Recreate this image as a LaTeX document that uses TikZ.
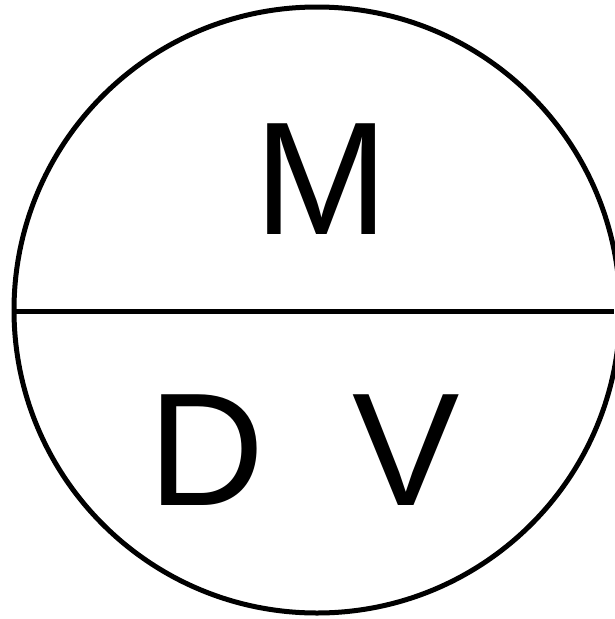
\documentclass[tikz,border=0pt]{standalone}
\usepackage{fontspec}
\setmainfont{Liberation Sans}
\usetikzlibrary{positioning}

\begin{document}
\begin{tikzpicture}[x=1pt, y=-1pt,
  stroke/.style={draw, line width=5pt},
  letter/.style={inner sep=0pt, font=\fontsize{161}{170}\selectfont}]
\useasboundingbox (0,0) rectangle (614,619);
\node[stroke, circle, minimum size=606pt, inner sep=0pt] (disc) at (317,310) {};
\coordinate (rim) at (614,311);
\draw[stroke] (disc.west |- rim) -- (rim);
\node[letter] (M) at (322,179) {M};
\node[letter] (D) at (207,450) {D};
\node[letter] (V) at (406,450) {V};
\end{tikzpicture}
\end{document}
